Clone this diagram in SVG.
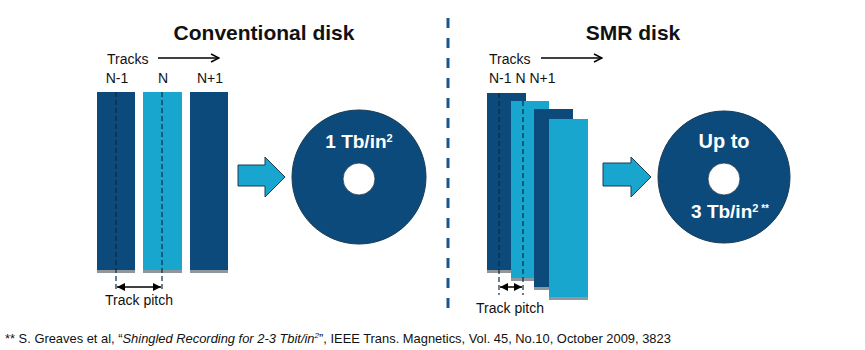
<svg xmlns="http://www.w3.org/2000/svg" width="865" height="350" viewBox="0 0 865 350">
<defs>
<style>
text{font-family:"Liberation Sans",Arial,sans-serif;fill:#111}
.title{font-size:21px;font-weight:bold;text-anchor:middle}
.lbl{font-size:14px}
.dk{fill:#0c4a7c}
.cy{fill:#18a6cf}
.sh{fill:#8f969c}
.guide{stroke:#0b2a45;stroke-width:1.2;stroke-dasharray:5,3;fill:none}
.thin{stroke:#000;stroke-width:1.3;fill:none}
.big{fill:#18a6cf;stroke:#1b3c55;stroke-width:1}
.disk{fill:#0c4a7c;stroke:#1b3c55;stroke-width:1}
.dtext{fill:#fff;font-weight:bold;text-anchor:middle}
</style>
<marker id="open" viewBox="0 0 10 10" refX="9" refY="5" markerWidth="10" markerHeight="10" markerUnits="userSpaceOnUse" orient="auto">
<path d="M1,1 L9,5 L1,9" fill="none" stroke="#000" stroke-width="1.4"/>
</marker>
<marker id="fill" viewBox="0 0 10 10" refX="10" refY="5" markerWidth="8" markerHeight="8" markerUnits="userSpaceOnUse" orient="auto-start-reverse">
<path d="M0,0 L10,5 L0,10 z" fill="#000"/>
</marker>
</defs>
<rect width="865" height="350" fill="#fff"/>

<g id="conventional">
<text class="title" x="264" y="40">Conventional disk</text>
<text class="lbl" x="107" y="64">Tracks</text>
<text class="lbl" x="117" y="83" text-anchor="middle">N-1</text>
<text class="lbl" x="163" y="83" text-anchor="middle">N</text>
<text class="lbl" x="210" y="83" text-anchor="middle">N+1</text>
<g id="conv-tracks">
<rect class="sh" x="97" y="92" width="38" height="181"/>
<rect class="dk" x="97" y="92" width="38" height="178"/>
<rect class="sh" x="143" y="92" width="39" height="181"/>
<rect class="cy" x="143" y="92" width="39" height="178"/>
<rect class="sh" x="190" y="92" width="38" height="181"/>
<rect class="dk" x="190" y="92" width="38" height="178"/>
</g>
<text class="lbl" x="139" y="305" text-anchor="middle">Track pitch</text>
</g>

<g id="conv-arrow">
<path class="big" d="M238,165 H265 V157 L285,177 L265,197 V186 H238 Z"/>
</g>

<g id="conv-disk">
<circle class="disk" cx="359" cy="177" r="67"/>
<circle cx="359" cy="179" r="16" fill="#fff" stroke="#1b3c55" stroke-width="0.8"/>
<text class="dtext" x="359" y="148" font-size="19">1 Tb/in<tspan font-size="11" dy="-6">2</tspan></text>
</g>

<g id="divider">
<line x1="448" y1="18" x2="448" y2="314" stroke="#1a5590" stroke-width="3" stroke-dasharray="10,10"/>
</g>

<g id="smr">
<text class="title" x="633" y="40">SMR disk</text>
<text class="lbl" x="489" y="64">Tracks</text>
<text class="lbl" x="489" y="83">N-1 N N+1</text>
<g id="smr-tracks">
<rect class="sh" x="487" y="93" width="39" height="180"/>
<rect class="dk" x="487" y="93" width="39" height="177"/>
<rect class="sh" x="511" y="101" width="38" height="180"/>
<rect class="cy" x="511" y="101" width="38" height="177"/>
<rect class="sh" x="534" y="109" width="39" height="181"/>
<rect class="dk" x="534" y="109" width="39" height="178"/>
<rect class="sh" x="549" y="119" width="39" height="181"/>
<rect class="cy" x="549" y="119" width="39" height="178"/>
</g>
<text class="lbl" x="510" y="313" text-anchor="middle">Track pitch</text>
</g>

<g id="smr-arrow">
<path class="big" d="M603,163 H631 V157 L651,177 L631,197 V186 H603 Z"/>
</g>

<g id="smr-disk">
<circle class="disk" cx="724" cy="177" r="66"/>
<circle cx="724" cy="179" r="16" fill="#fff" stroke="#1b3c55" stroke-width="0.8"/>
<text class="dtext" x="724" y="148" font-size="20">Up to</text>
<text class="dtext" x="730" y="218" font-size="19">3 Tb/in<tspan font-size="11" dy="-6">2</tspan><tspan font-size="10" dy="0"> **</tspan></text>
</g>

<g id="connectors">
<line class="thin" x1="158" y1="58" x2="219" y2="58" marker-end="url(#open)"/>
<line class="thin" x1="541" y1="58" x2="602" y2="58" marker-end="url(#open)"/>
<line class="guide" x1="116" y1="92" x2="116" y2="292"/>
<line class="guide" x1="162" y1="92" x2="162" y2="292"/>
<line x1="117" y1="287" x2="161" y2="287" stroke="#000" stroke-width="1.5" marker-start="url(#fill)" marker-end="url(#fill)"/>
<line class="guide" x1="499" y1="93" x2="499" y2="295"/>
<line class="guide" x1="523" y1="101" x2="523" y2="295"/>
<line x1="500" y1="287" x2="522" y2="287" stroke="#000" stroke-width="1.5" marker-start="url(#fill)" marker-end="url(#fill)"/>
</g>

<g id="footnote">
<text x="5" y="343" font-size="12.9">** S. Greaves et al, “<tspan font-style="italic">Shingled Recording for 2-3 Tbit/in<tspan font-size="8" dy="-5">2</tspan></tspan><tspan dy="5">”, IEEE Trans. Magnetics, Vol. 45, No.10, October 2009, 3823</tspan></text>
</g>
</svg>
